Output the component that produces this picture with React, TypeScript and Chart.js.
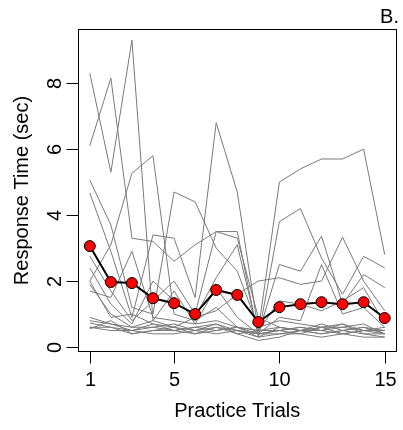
import React, { useEffect, useRef } from "react";
import { Chart, registerables } from "chart.js";

Chart.register(...registerables);

// ---------- data ----------
const trials = [1, 2, 3, 4, 5, 6, 7, 8, 9, 10, 11, 12, 13, 14, 15];
const xTickValues = [1, 5, 10, 15];
const yTickValues = [0, 2, 4, 6, 8];

const meanRT = [3.06, 1.97, 1.94, 1.48, 1.33, 1.0, 1.73, 1.58, 0.76, 1.21, 1.3, 1.36, 1.3, 1.36, 0.88];

const p01 = [8.3, 5.3, 9.3, 0.8, 0.6, 0.5, 0.7, 0.5, 0.4, 0.5, 0.6, 0.5, 0.4, 0.5, 0.4];
const p02 = [6.1, 8.15, 3.3, 3.2, 2.6, 3.1, 3.5, 3.3, 0.9, 0.6, 0.5, 0.6, 0.6, 0.5, 0.5];
const p03 = [2.0, 3.1, 5.27, 5.8, 1.0, 0.8, 1.2, 0.6, 0.5, 0.6, 0.5, 0.7, 0.5, 0.6, 0.5];
const p04 = [5.06, 3.7, 1.2, 1.0, 4.7, 4.4, 3.0, 2.3, 0.6, 0.8, 0.7, 0.6, 0.7, 0.5, 0.6];
const p05 = [4.67, 2.9, 0.9, 3.4, 3.3, 1.5, 6.8, 4.7, 0.5, 5.0, 5.4, 5.7, 5.7, 6.0, 2.8];
const p06 = [2.76, 1.7, 0.8, 1.4, 2.0, 1.0, 3.5, 3.5, 0.3, 3.8, 4.2, 2.7, 1.6, 2.75, 2.4];
const p07 = [2.4, 1.3, 0.7, 2.0, 1.4, 0.9, 2.1, 3.1, 0.4, 2.5, 2.3, 3.36, 1.3, 2.2, 1.8];
const p08 = [2.0, 0.9, 1.0, 0.7, 0.6, 0.9, 1.1, 1.6, 2.0, 2.1, 1.9, 2.0, 3.33, 2.0, 1.1];
const p09 = [1.9, 1.0, 0.6, 0.8, 1.7, 0.7, 0.8, 0.6, 0.5, 1.4, 1.3, 1.1, 1.4, 1.8, 0.7];
const p10 = [0.9, 0.7, 0.6, 0.6, 0.5, 0.6, 0.5, 0.6, 0.4, 0.5, 0.6, 0.5, 0.6, 0.7, 0.4];
const p11 = [0.8, 0.7, 0.5, 0.6, 0.7, 0.5, 0.6, 0.5, 0.3, 0.4, 0.5, 0.4, 0.5, 0.4, 0.3];
const p12 = [0.73, 0.6, 0.5, 0.7, 0.5, 0.6, 0.7, 0.4, 0.5, 0.5, 0.4, 0.6, 0.4, 0.5, 0.5];
const p13 = [0.6, 0.6, 0.4, 0.5, 0.6, 0.4, 0.5, 0.6, 0.3, 0.6, 0.5, 0.5, 0.7, 0.4, 0.4];
const p14 = [0.6, 0.5, 0.5, 0.4, 0.4, 0.5, 0.4, 0.5, 0.4, 0.4, 0.4, 0.3, 0.4, 0.3, 0.3];
const p15 = [0.55, 0.8, 0.4, 0.5, 0.5, 0.4, 0.6, 0.4, 0.2, 0.3, 0.5, 0.4, 0.5, 0.6, 0.4];
const p16 = [1.7, 1.5, 2.9, 0.9, 0.8, 0.7, 1.8, 0.9, 0.4, 0.9, 0.8, 2.5, 1.0, 1.2, 0.6];

const participants = [p01, p02, p03, p04, p05, p06, p07, p08, p09, p10, p11, p12, p13, p14, p15, p16];

const xTitle = "Practice Trials";
const yTitle = "Response Time (sec)";
const panelLabel = "B.";

// ---------- styling ----------
const FONT = "20px 'Liberation Sans', Arial, Helvetica, sans-serif";
const TICK_LEN = 12;

const rAxesPlugin = {
  id: "rAxes",
  afterDraw(chart: any) {
    const { ctx, chartArea: a, scales } = chart;
    const xs = scales.x;
    const ys = scales.y;
    ctx.save();
    ctx.strokeStyle = "#000";
    ctx.fillStyle = "#000";
    ctx.lineWidth = 1;
    // box
    const l = Math.round(a.left) + 0.5;
    const t = Math.round(a.top) + 0.5;
    const r = Math.round(a.right) - 0.5;
    const b = Math.round(a.bottom) - 0.5;
    ctx.strokeRect(l, t, r - l, b - t);

    ctx.font = FONT;
    // x ticks
    ctx.textAlign = "center";
    ctx.textBaseline = "alphabetic";
    xTickValues.forEach((v) => {
      const px = Math.round(xs.getPixelForValue(v)) + 0.5;
      ctx.beginPath();
      ctx.moveTo(px, b);
      ctx.lineTo(px, b + TICK_LEN);
      ctx.stroke();
      ctx.fillText(String(v), px, 386);
    });
    // y ticks
    yTickValues.forEach((v) => {
      const py = Math.round(ys.getPixelForValue(v)) + 0.5;
      ctx.beginPath();
      ctx.moveTo(l - TICK_LEN, py);
      ctx.lineTo(l, py);
      ctx.stroke();
      ctx.save();
      ctx.translate(61, py);
      ctx.rotate(-Math.PI / 2);
      ctx.textAlign = "center";
      ctx.fillText(String(v), 0, 0);
      ctx.restore();
    });
    // axis titles
    ctx.textAlign = "center";
    ctx.fillText(xTitle, (a.left + a.right) / 2, 417);
    ctx.save();
    ctx.translate(28, (a.top + a.bottom) / 2);
    ctx.rotate(-Math.PI / 2);
    ctx.fillText(yTitle, 0, 0);
    ctx.restore();
    // panel label
    ctx.textAlign = "right";
    ctx.fillText(panelLabel, 399, 23);
    ctx.restore();
  },
};

export default function App() {
  const canvasRef = useRef<HTMLCanvasElement | null>(null);

  useEffect(() => {
    const canvas = canvasRef.current;
    if (!canvas) return;

    const greyDatasets = participants.map((series, i) => ({
      label: `P${i + 1}`,
      data: series.map((v, j) => ({ x: trials[j], y: v })),
      borderColor: "#7a7a7a",
      borderWidth: 1,
      pointRadius: 0,
      tension: 0,
      fill: false,
      order: 1,
    }));

    const meanDataset = {
      label: "Mean",
      data: meanRT.map((v, j) => ({ x: trials[j], y: v })),
      borderColor: "#000000",
      borderWidth: 2,
      pointRadius: 5.5,
      pointBackgroundColor: "#ff0000",
      pointBorderColor: "#000000",
      pointBorderWidth: 1,
      tension: 0,
      fill: false,
      order: 0,
    };

    const chart = new Chart(canvas, {
      type: "line",
      data: { datasets: [meanDataset, ...greyDatasets] as any },
      options: {
        responsive: false,
        animation: false,
        devicePixelRatio: 1,
        layout: { padding: { left: 78, top: 29, right: 2, bottom: 78 } },
        plugins: { legend: { display: false }, tooltip: { enabled: false } },
        scales: {
          x: { type: "linear", min: 0.44, max: 15.56, display: false },
          y: { type: "linear", min: -0.15, max: 9.64, display: false },
        },
      },
      plugins: [rAxesPlugin],
    });

    return () => chart.destroy();
  }, []);

  return (
    <div style={{ position: "fixed", left: 0, top: 0, width: 403, height: 430, background: "#fff" }}>
      <canvas ref={canvasRef} width={403} height={430} style={{ display: "block" }} />
    </div>
  );
}
